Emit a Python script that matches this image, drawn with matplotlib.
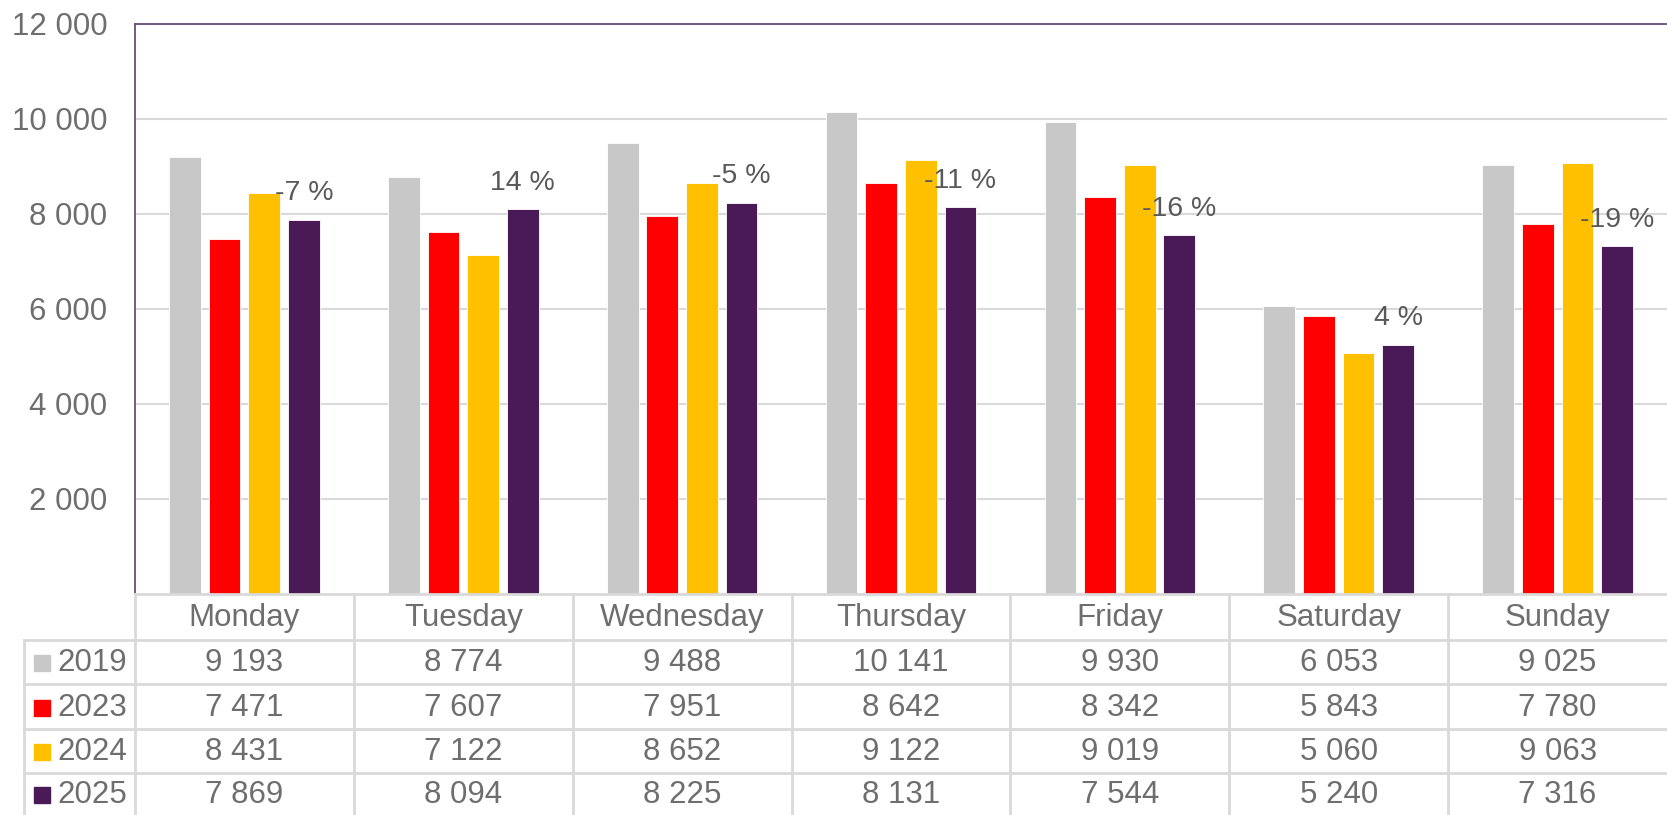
import matplotlib.pyplot as plt
import numpy as np

plt.rcParams['font.family'] = ['Liberation Sans', 'DejaVu Sans']

# data
days = ['Monday', 'Tuesday', 'Wednesday', 'Thursday', 'Friday', 'Saturday', 'Sunday']
years = ['2019', '2023', '2024', '2025']
v2019 = [9193, 8774, 9488, 10141, 9930, 6053, 9025]
v2023 = [7471, 7607, 7951, 8642, 8342, 5843, 7780]
v2024 = [8431, 7122, 8652, 9122, 9019, 5060, 9063]
v2025 = [7869, 8094, 8225, 8131, 7544, 5240, 7316]
colors = ['#C8C8C8', '#FF0000', '#FFC000', '#4A1A56']
yticks = [2000, 4000, 6000, 8000, 10000, 12000]

series = [v2019, v2023, v2024, v2025]
txt_col = '#6E6E6E'
grid_col = '#D9D9D9'
spine_col = '#6B4C7A'
fs = 22.5      # ticks and table
fs_pct = 20.5  # change labels

W, H = 1667, 815
fig = plt.figure(figsize=(W / 100, H / 100), dpi=100)

left, top, base = 135, 23.5, 594
ax = fig.add_axes([left / W, (H - base) / H, (W - left) / W, (base - top) / H])

x = np.arange(len(days))
bw = 0.145
pitch = 0.181
for i, (vals, c) in enumerate(zip(series, colors)):
    ax.bar(x + (i - 1.5) * pitch, vals, bw, color=c, edgecolor='white', linewidth=0.6, zorder=3)

# change 2025 vs 2024, label above the 2025 bar
for xi, a, b in zip(x, v2024, v2025):
    pct = round((b - a) / a * 100)
    ax.text(xi + 1.5 * pitch, b + 560, f'{pct} %', ha='center', va='center',
            fontsize=fs_pct, color='#595959', zorder=4)

ax.set_xlim(-0.5, 6.5)
ax.set_ylim(0, 12000)
ax.set_yticks(yticks)
ax.set_yticklabels([f'{t:,}'.replace(',', ' ') for t in yticks], fontsize=fs, color=txt_col)
ax.tick_params(axis='y', length=0, pad=20)
ax.set_xticks([])
ax.grid(axis='y', color=grid_col, linewidth=1.5, zorder=0)
ax.spines['right'].set_visible(False)
ax.spines['left'].set_color(spine_col)
ax.spines['top'].set_color(spine_col)
ax.spines['left'].set_linewidth(1.3)
ax.spines['top'].set_linewidth(1.3)
ax.spines['bottom'].set_visible(False)

# data table below the chart
tleft = 24
unit = (W - left) / 7.0
xmin = -0.5 - (left - tleft) / unit
tax = fig.add_axes([tleft / W, 0, (W - tleft) / W, (H - base) / H])
tax.set_xlim(xmin, 6.5)
tax.set_ylim(H, base)
tax.axis('off')

rows_y = [base, 640, 684, 729, 773, H]
lw = 2
tax.plot([-0.5, 6.5], [base, base], color=grid_col, lw=lw, clip_on=False)
for ry in rows_y[1:-1]:
    tax.plot([xmin, 6.5], [ry, ry], color=grid_col, lw=lw, clip_on=False)
for b in np.arange(-0.5, 6.5, 1.0):
    tax.plot([b, b], [base, H], color=grid_col, lw=lw, clip_on=False)
tax.plot([xmin, xmin], [rows_y[1], H], color=grid_col, lw=lw, clip_on=False)

for xi, d in zip(x, days):
    tax.text(xi, (rows_y[0] + rows_y[1]) / 2 + 1, d, ha='center', va='center', fontsize=fs, color=txt_col)

for r, (yr, vals, c) in enumerate(zip(years, series, colors)):
    yc = (rows_y[r + 1] + rows_y[r + 2]) / 2 + 1
    tax.plot([xmin + 18.5 / unit], [yc], marker='s', ms=12, color=c, mec=c, clip_on=False)
    tax.text(xmin + 33 / unit, yc, yr, ha='left', va='center', fontsize=fs, color=txt_col)
    for xi, v in zip(x, vals):
        tax.text(xi, yc, f'{v:,}'.replace(',', ' '), ha='center', va='center',
                 fontsize=fs, color=txt_col)

fig.savefig('out.png', dpi=100)
